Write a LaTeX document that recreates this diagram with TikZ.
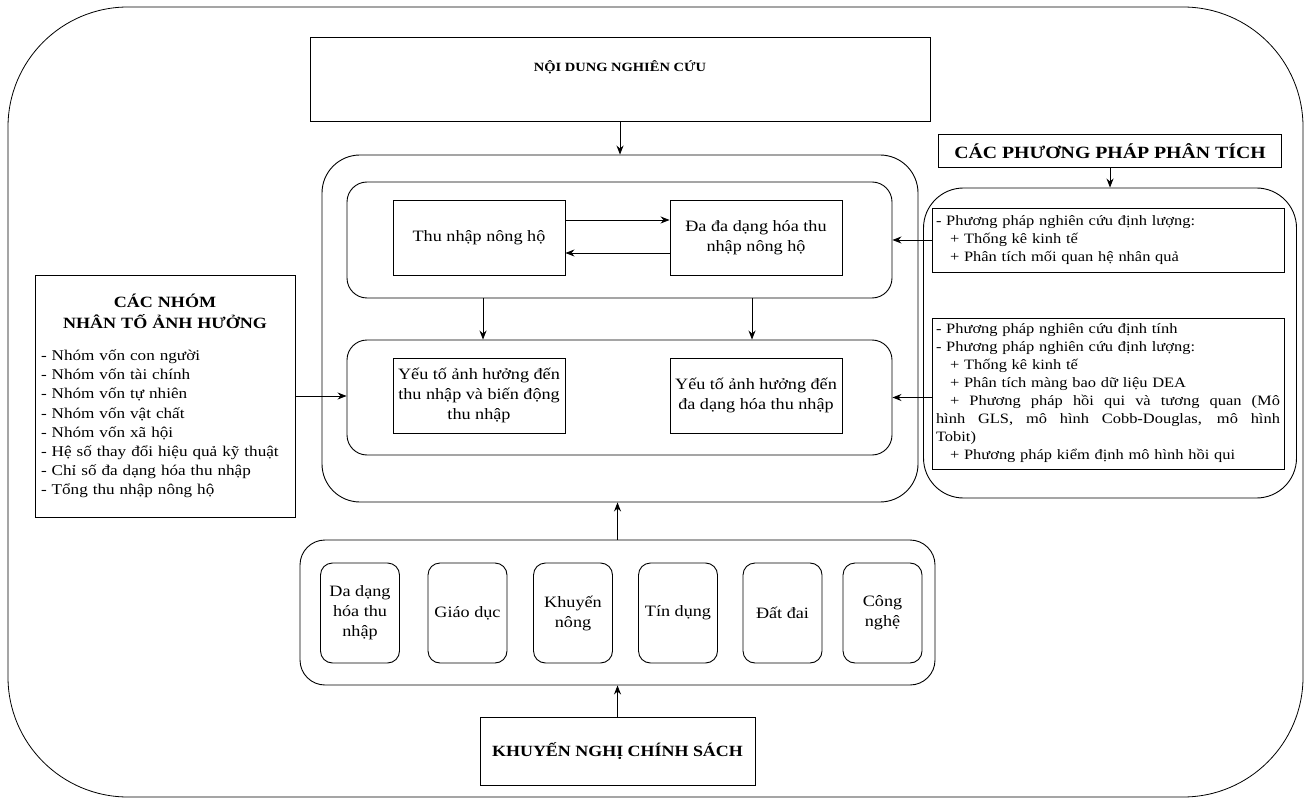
\documentclass[tikz,border=0pt]{standalone}
\usepackage{fontspec}
\setmainfont[FakeStretch=1.15]{Liberation Serif}
\usetikzlibrary{arrows.meta,positioning,calc}
\newlength\ppwidth
\setlength\ppwidth{344pt}
\newcommand\fullline[1]{\leavevmode\hbox to\ppwidth{\spaceskip=0.25em plus 1fil\relax#1}}

\begin{document}
\begin{tikzpicture}[x=1pt,y=-1pt,
  every node/.style={font=\fontsize{15.8}{20}\selectfont},
  plainbox/.style={draw,line width=0.9pt,align=center,inner sep=4pt},
  roundbox/.style={draw,line width=0.9pt,rounded corners=#1,align=center},
  roundbox/.default=20pt,
  titletext/.style={font=\fontsize{#1}{20}\selectfont\bfseries},
  listtext/.style={font=\fontsize{14.3}{18}\selectfont,align=left},
  arr/.style={line width=0.9pt,-{Stealth[length=9pt,width=7pt]}},
]
\useasboundingbox (0,0) rectangle (1305,799);
% outer frame
\draw[line width=0.8pt,rounded corners=120pt] (8,7) rectangle (1303,797);

% top
\node[plainbox,titletext=12.6,minimum width=620pt,minimum height=84pt,text height=10pt,text depth=26pt] (noidung) at (620,79.5) {NỘI DUNG NGHIÊN CỨU};

% centre block
\node[roundbox=38pt,minimum width=596pt,minimum height=347pt] (mainbox) at (620,328.5) {};
\node[roundbox,minimum width=545pt,minimum height=116pt] (upperbox) at (619.5,240) {};
\node[roundbox,minimum width=545pt,minimum height=115pt] (lowerbox) at (619.5,397.5) {};
\node[plainbox,minimum width=172pt,minimum height=75pt] (thunhap) at (479,237.5) {Thu nhập nông hộ};
\node[plainbox,minimum width=172pt,minimum height=75pt] (dadang) at (756,237.5) {Đa đa dạng hóa thu\\nhập nông hộ};
\node[plainbox,minimum width=172pt,minimum height=75pt,inner sep=2pt] (yeutoA) at (479,395.5) {Yếu tố ảnh hưởng đến\\thu nhập và biến động\\thu nhập};
\node[plainbox,minimum width=172pt,minimum height=75pt,inner sep=2pt] (yeutoB) at (756,395.5) {Yếu tố ảnh hưởng đến\\đa dạng hóa thu nhập};

% left
\node[plainbox,font=\fontsize{14.9}{19.2}\selectfont,align=left,minimum width=260pt,minimum height=242pt,text width=248pt,inner sep=6pt] (nhomnhanto) at (165,396) {%
  {\centering\fontsize{15.7}{21}\selectfont\bfseries CÁC NHÓM\\NHÂN TỐ ẢNH HƯỞNG\par}\vspace{13pt}
  - Nhóm vốn con người\\
  - Nhóm vốn tài chính\\
  - Nhóm vốn tự nhiên\\
  - Nhóm vốn vật chất\\
  - Nhóm vốn xã hội\\
  - Hệ số thay đổi hiệu quả kỹ thuật\\
  - Chỉ số đa dạng hóa thu nhập\\
  - Tổng thu nhập nông hộ};

% right
\node[plainbox,titletext=17.2,minimum width=343pt,minimum height=33pt] (ppbox) at (1110,151) {CÁC PHƯƠNG PHÁP PHÂN TÍCH};
\node[roundbox=40pt,minimum width=373pt,minimum height=310pt] (rightbox) at (1110,343) {};
\node[plainbox,listtext,minimum width=352pt,minimum height=64pt,text width=\ppwidth,inner sep=3pt] (ppA) at (1108,240) {%
  - Phương pháp nghiên cứu định lượng:\\
  \hspace*{14pt}+ Thống kê kinh tế\\
  \hspace*{14pt}+ Phân tích mối quan hệ nhân quả};
\node[plainbox,listtext,minimum width=352pt,minimum height=151pt,text width=\ppwidth,inner sep=3pt] (ppB) at (1108,393.5) {%
  - Phương pháp nghiên cứu định tính\\
  - Phương pháp nghiên cứu định lượng:\\
  \hspace*{14pt}+ Thống kê kinh tế\\
  \hspace*{14pt}+ Phân tích màng bao dữ liệu DEA\\
  \fullline{\hspace*{14pt}+ Phương pháp hồi qui và tương quan (Mô}\\
  \fullline{hình GLS, mô hình Cobb-Douglas, mô hình}\\
  Tobit)\\
  \hspace*{14pt}+ Phương pháp kiểm định mô hình hồi qui};

% bottom
\node[roundbox=25pt,minimum width=635pt,minimum height=145pt] (chinhsach) at (617.5,612.5) {};
\foreach \px/\txt [count=\i] in {360/{Da dạng\\hóa thu\\nhập},467.5/Giáo dục,573/{Khuyến\\nông},678/Tín dụng,782.5/Đất đai,882.5/{Công\\nghệ}}
  \node[roundbox=12pt,minimum width=79pt,minimum height=100pt,inner sep=2pt] (muc\i) at (\px,613) {\txt};
\node[plainbox,titletext=15.6,minimum width=275pt,minimum height=68pt] (khuyennghi) at (617.5,751) {KHUYẾN NGHỊ CHÍNH SÁCH};

% connectors
\draw[arr] (noidung) -- (mainbox);
\draw[arr] ([yshift=17.5pt]thunhap.east) -- ([yshift=17.5pt]dadang.west);
\draw[arr] ([yshift=-15.5pt]dadang.west) -- ([yshift=-15.5pt]thunhap.east);
\draw[arr] ([xshift=4pt]upperbox.south -| thunhap) -- ([xshift=4pt]lowerbox.north -| thunhap);
\draw[arr] ([xshift=-4pt]upperbox.south -| dadang) -- ([xshift=-4pt]lowerbox.north -| dadang);
\draw[arr] (nhomnhanto.east) -- (nhomnhanto.east -| lowerbox.west);
\draw[arr] (ppA.west) -- (ppA.west -| upperbox.east);
\draw[arr] (ppB.west |- lowerbox.east) -- (lowerbox.east);
\draw[arr] (ppbox) -- (rightbox);
\draw[arr] (chinhsach.north) -- (chinhsach.north |- mainbox.south);
\draw[arr] (khuyennghi) -- (chinhsach);
\end{tikzpicture}
\end{document}
